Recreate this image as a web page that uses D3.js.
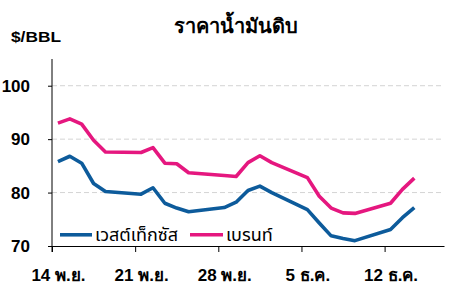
<!DOCTYPE html>
<html>
<head>
<meta charset="utf-8">
<script src="https://cdn.jsdelivr.net/npm/d3@7"></script>
<style>
    body { margin: 0; background: #fff; }
    text { font-family: "Liberation Sans", Arial, sans-serif; }
</style>
</head>
<body>
<div id="chart"></div>
<script>
var dates = ["2022-11-14", "2022-11-15", "2022-11-16", "2022-11-17", "2022-11-18",
    "2022-11-21", "2022-11-22", "2022-11-23", "2022-11-24", "2022-11-25",
    "2022-11-28", "2022-11-29", "2022-11-30", "2022-12-01", "2022-12-02",
    "2022-12-05", "2022-12-06", "2022-12-07", "2022-12-08", "2022-12-09",
    "2022-12-12", "2022-12-13", "2022-12-14"];
var wti = [85.8, 86.8, 85.5, 81.7, 80.2, 79.7, 80.9, 78.0, 77.1, 76.4,
    77.2, 78.2, 80.4, 81.2, 80.0, 76.8, 74.3, 71.9, 71.4, 71.0,
    73.1, 75.3, 77.2];
var brent = [93.0, 93.8, 92.8, 89.8, 87.6, 87.5, 88.4, 85.5, 85.4, 83.7,
    83.2, 83.0, 85.6, 86.9, 85.6, 82.8, 79.3, 77.1, 76.2, 76.1,
    78.0, 80.6, 82.7];
var seriesNames = ["เวสต์เท็กซัส", "เบรนท์"];
var tickDates = ["2022-11-14", "2022-11-21", "2022-11-28", "2022-12-05", "2022-12-12"];
var tickLabels = ["14 พ.ย.", "21 พ.ย.", "28 พ.ย.", "5 ธ.ค.", "12 ธ.ค."];
var yTicks = [70, 80, 90, 100];

var colors = ["#0d5b9b", "#e5177f"];
var parse = d3.timeParse("%Y-%m-%d");

var margin = {top: 59, right: 17, bottom: 56, left: 52};
var width = 461 - margin.left - margin.right;
var height = 302 - margin.top - margin.bottom;

var svg = d3.select("#chart").append("svg")
    .attr("width", 461)
    .attr("height", 302);

var g = svg.append("g")
    .attr("transform", "translate(" + margin.left + "," + margin.top + ")");

var xScale = d3.scaleTime()
    .domain([parse("2022-11-14"), parse("2022-12-17")])
    .range([0, width]);

var yScale = d3.scaleLinear()
    .domain([70, 105])
    .range([height, 0]);

// points sit in the middle of their day
function xDay(s) {
    return xScale(d3.timeHour.offset(parse(s), 12));
}
var halfDay = xDay("2022-11-14") - xScale(parse("2022-11-14"));

// grid
g.selectAll(".grid")
    .data(yTicks.slice(1))
    .enter().append("line")
    .attr("class", "grid")
    .attr("x1", 0)
    .attr("x2", width)
    .attr("y1", function (d) { return yScale(d); })
    .attr("y2", function (d) { return yScale(d); })
    .style("stroke", "#d4d4d4")
    .style("stroke-width", 1)
    .style("stroke-dasharray", "5,3");

// lines
var line = d3.line()
    .x(function (d) { return xDay(d.date); })
    .y(function (d) { return yScale(d.value); });

[wti, brent].forEach(function (vals, i) {
    var pts = dates.map(function (d, j) { return {date: d, value: vals[j]}; });
    g.append("path")
        .datum(pts)
        .attr("d", line)
        .style("fill", "none")
        .style("stroke", colors[i])
        .style("stroke-width", 3.6)
        .style("stroke-linejoin", "round");
});

// x axis
var xAxis = d3.axisBottom(xScale)
    .tickValues(tickDates.map(parse))
    .tickSize(6)
    .tickSizeOuter(0)
    .tickFormat(function (d, i) { return tickLabels[i]; });

var gx = g.append("g")
    .attr("transform", "translate(0," + height + ")")
    .call(xAxis);
gx.select(".domain").style("stroke", "#000");
gx.selectAll(".tick line").style("stroke", "#000");
gx.selectAll(".tick text")
    .attr("x", halfDay)
    .attr("y", 23)
    .style("font-size", "17px")
    .style("font-weight", "bold")
    .style("fill", "#000");

// y axis
var yAxis = d3.axisLeft(yScale)
    .tickValues(yTicks)
    .tickSize(4)
    .tickSizeOuter(0)
    .tickPadding(18);

var gy = g.append("g")
    .call(yAxis);
gy.select(".domain")
    .attr("d", "M0,0V" + (height + 6))
    .style("stroke", "#000");
gy.selectAll(".tick line").style("stroke", "#000");
gy.selectAll(".tick text")
    .style("font-size", "17px")
    .style("font-weight", "bold")
    .style("fill", "#000");

// legend
var legendX = [8, 138];
var legendW = [32, 33];
for (var index = 0; index < seriesNames.length; index++) {
    g.append("line")
        .attr("x1", legendX[index])
        .attr("x2", legendX[index] + legendW[index])
        .attr("y1", yScale(72.1))
        .attr("y2", yScale(72.1))
        .style("stroke", colors[index])
        .style("stroke-width", 3.6);
    g.append("text")
        .attr("x", legendX[index] + legendW[index] + 3)
        .attr("y", yScale(72.1))
        .attr("dy", ".36em")
        .style("font-size", "18px")
        .style("font-family", "'Noto Sans Thai', 'Noto Sans', sans-serif")
        .text(seriesNames[index]);
}

// titles
svg.append("text")
    .attr("x", 236)
    .attr("y", 33)
    .attr("text-anchor", "middle")
    .style("font-size", "20px")
    .style("font-weight", "bold")
    .text("ราคาน้ำมันดิบ");

svg.append("text")
    .attr("x", 11)
    .attr("y", 42)
    .attr("textLength", 50)
    .attr("lengthAdjust", "spacingAndGlyphs")
    .style("font-size", "14px")
    .style("font-weight", "bold")
    .text("$/BBL");
</script>
</body>
</html>
